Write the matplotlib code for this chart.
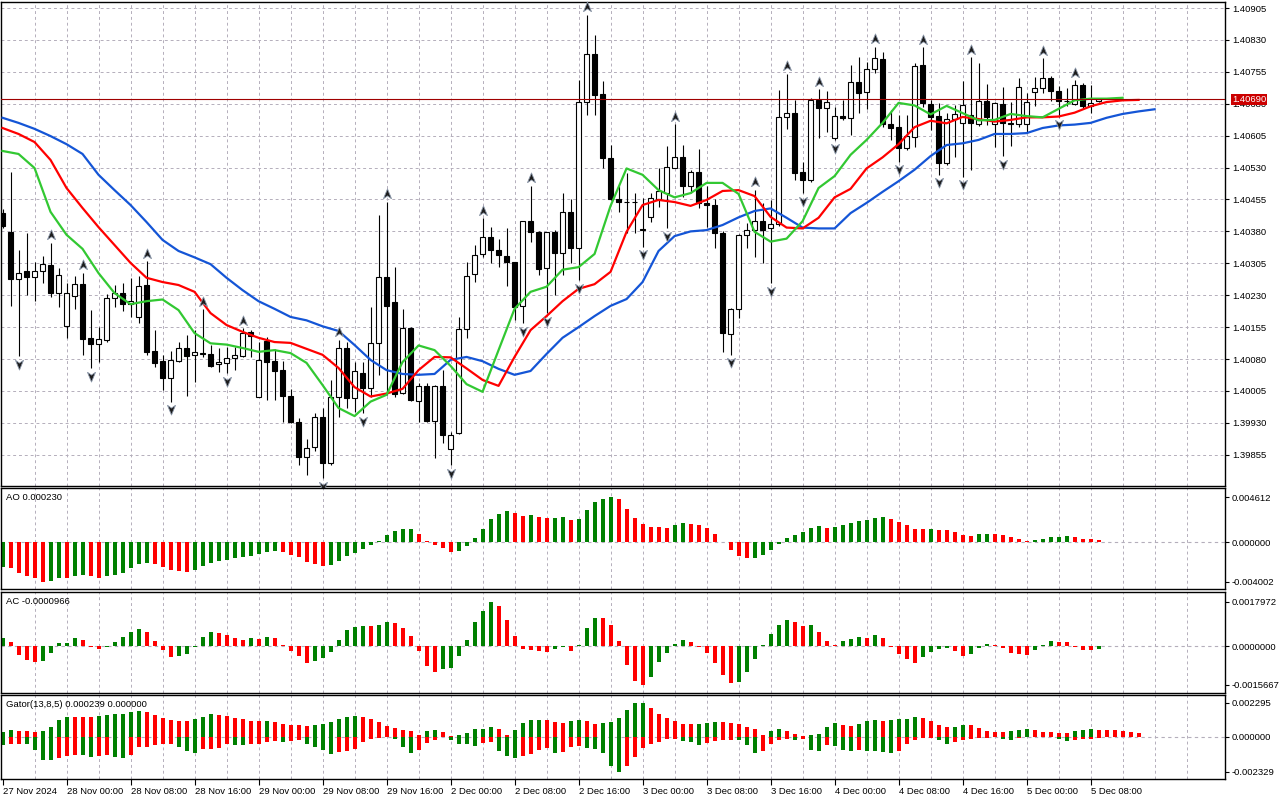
import numpy as np
import matplotlib
matplotlib.use("Agg")
import matplotlib.pyplot as plt
from matplotlib.path import Path
from matplotlib.transforms import offset_copy, blended_transform_factory

plt.rcParams['font.family'] = ['Liberation Sans', 'DejaVu Sans']

# ---- hourly candles, 27 Nov 16:00 .. 5 Dec 09:00 ----
opens = [1.40424, 1.40379, 1.40267, 1.40287, 1.40274, 1.40288, 1.40301, 1.40235, 1.40158, 1.40229,
         1.40256, 1.40130, 1.40116, 1.40125, 1.40224, 1.40235, 1.40210, 1.40180, 1.40254, 1.40099,
         1.40076, 1.40036, 1.40076, 1.40105, 1.40090, 1.40094, 1.40093, 1.40068, 1.40071, 1.40082,
         1.40088, 1.40143, 1.39992, 1.40123, 1.40076, 1.40054, 1.39994, 1.39932, 1.39851, 1.39874,
         1.39945, 1.39835, 1.39992, 1.40105, 1.39988, 1.40048, 1.40011, 1.40117, 1.40272, 1.40213,
         1.40001, 1.40154, 1.39981, 1.40017, 1.39935, 1.40017, 1.39869, 1.39906, 1.40151, 1.40279,
         1.40326, 1.40368, 1.40336, 1.40323, 1.40307, 1.40205, 1.40404, 1.40378, 1.40293, 1.40378,
         1.40329, 1.40425, 1.40340, 1.40685, 1.40796, 1.40702, 1.40552, 1.40456, 1.40450, 1.40449,
         1.40386, 1.40415, 1.40456, 1.40471, 1.40530, 1.40556, 1.40487, 1.40519, 1.40446, 1.40442,
         1.40376, 1.40138, 1.40197, 1.40372, 1.40383, 1.40405, 1.40387, 1.40397, 1.40648, 1.40658,
         1.40519, 1.40500, 1.40689, 1.40669, 1.40599, 1.40651, 1.40646, 1.40730, 1.40708, 1.40761,
         1.40784, 1.40632, 1.40625, 1.40575, 1.40603, 1.40770, 1.40679, 1.40651, 1.40541, 1.40644,
         1.40635, 1.40654, 1.40632, 1.40686, 1.40632, 1.40679, 1.40634, 1.40632, 1.40632, 1.40707,
         1.40716, 1.40740, 1.40710, 1.40687, 1.40679, 1.40724, 1.40675, 1.40687]
highs = [1.40433, 1.40520, 1.40336, 1.40377, 1.40309, 1.40322, 1.40353, 1.40294, 1.40258, 1.40275,
         1.40282, 1.40195, 1.40156, 1.40233, 1.40254, 1.40258, 1.40270, 1.40275, 1.40310, 1.40148,
         1.40090, 1.40099, 1.40119, 1.40137, 1.40148, 1.40197, 1.40113, 1.40105, 1.40109, 1.40109,
         1.40152, 1.40148, 1.40121, 1.40133, 1.40103, 1.40076, 1.40009, 1.39941, 1.39891, 1.39954,
         1.39964, 1.40031, 1.40125, 1.40121, 1.40074, 1.40072, 1.40203, 1.40419, 1.40450, 1.40297,
         1.40197, 1.40156, 1.40023, 1.40023, 1.40019, 1.40054, 1.39909, 1.40180, 1.40309, 1.40348,
         1.40411, 1.40391, 1.40361, 1.40389, 1.40309, 1.40405, 1.40487, 1.40382, 1.40379, 1.40383,
         1.40471, 1.40455, 1.40736, 1.40889, 1.40842, 1.40733, 1.40583, 1.40489, 1.40517, 1.40471,
         1.40458, 1.40470, 1.40528, 1.40581, 1.40632, 1.40583, 1.40524, 1.40574, 1.40487, 1.40456,
         1.40380, 1.40199, 1.40375, 1.40399, 1.40477, 1.40446, 1.40454, 1.40712, 1.40750, 1.40689,
         1.40542, 1.40694, 1.40714, 1.40710, 1.40672, 1.40689, 1.40771, 1.40791, 1.40777, 1.40814,
         1.40801, 1.40665, 1.40654, 1.40654, 1.40775, 1.40813, 1.40689, 1.40681, 1.40658, 1.40677,
         1.40733, 1.40789, 1.40775, 1.40726, 1.40685, 1.40719, 1.40685, 1.40740, 1.40706, 1.40742,
         1.40787, 1.40745, 1.40722, 1.40718, 1.40735, 1.40728, 1.40725, 1.40694]
lows = [1.40388, 1.40205, 1.40087, 1.40231, 1.40217, 1.40259, 1.40227, 1.40203, 1.40129, 1.40198,
        1.40090, 1.40058, 1.40074, 1.40121, 1.40203, 1.40194, 1.40180, 1.40164, 1.40090, 1.40062,
        1.40007, 1.39980, 1.40074, 1.39994, 1.40027, 1.40086, 1.40062, 1.40050, 1.40047, 1.40054,
        1.40086, 1.40086, 1.39990, 1.39984, 1.39984, 1.39931, 1.39929, 1.39831, 1.39808, 1.39865,
        1.39800, 1.39831, 1.39945, 1.39964, 1.39956, 1.39953, 1.39992, 1.40043, 1.39996, 1.39992,
        1.39997, 1.39982, 1.39933, 1.39933, 1.39847, 1.39882, 1.39831, 1.39904, 1.40129, 1.40262,
        1.40321, 1.40305, 1.40297, 1.40252, 1.40172, 1.40164, 1.40356, 1.40278, 1.40188, 1.40231,
        1.40278, 1.40305, 1.40266, 1.40654, 1.40654, 1.40528, 1.40454, 1.40426, 1.40376, 1.40377,
        1.40344, 1.40403, 1.40438, 1.40387, 1.40528, 1.40462, 1.40470, 1.40434, 1.40391, 1.40340,
        1.40097, 1.40090, 1.40176, 1.40340, 1.40321, 1.40305, 1.40258, 1.40393, 1.40620, 1.40501,
        1.40470, 1.40497, 1.40599, 1.40614, 1.40595, 1.40642, 1.40607, 1.40658, 1.40668, 1.40752,
        1.40626, 1.40595, 1.40544, 1.40571, 1.40579, 1.40673, 1.40618, 1.40513, 1.40535, 1.40555,
        1.40509, 1.40524, 1.40628, 1.40630, 1.40579, 1.40557, 1.40581, 1.40625, 1.40611, 1.40675,
        1.40705, 1.40686, 1.40650, 1.40675, 1.40677, 1.40668, 1.40658, 1.40685]
closes = [1.40393, 1.40267, 1.40283, 1.40274, 1.40287, 1.40303, 1.40235, 1.40277, 1.40235, 1.40256,
          1.40127, 1.40116, 1.40127, 1.40224, 1.40235, 1.40210, 1.40216, 1.40252, 1.40097, 1.40070,
          1.40036, 1.40077, 1.40105, 1.40088, 1.40096, 1.40093, 1.40064, 1.40073, 1.40082, 1.40090,
          1.40141, 1.40135, 1.40078, 1.40074, 1.40053, 1.39994, 1.39931, 1.39851, 1.39872, 1.39944,
          1.39835, 1.39990, 1.40105, 1.39988, 1.40052, 1.40011, 1.40117, 1.40272, 1.40205, 1.39999,
          1.40154, 1.39984, 1.40017, 1.39934, 1.40017, 1.39902, 1.39902, 1.40151, 1.40275, 1.40325,
          1.40368, 1.40336, 1.40325, 1.40307, 1.40202, 1.40404, 1.40378, 1.40292, 1.40378, 1.40329,
          1.40425, 1.40340, 1.40683, 1.40796, 1.40701, 1.40552, 1.40456, 1.40450, 1.40449, 1.40448,
          1.40383, 1.40458, 1.40475, 1.40531, 1.40556, 1.40487, 1.40519, 1.40446, 1.40442, 1.40376,
          1.40141, 1.40197, 1.40372, 1.40383, 1.40405, 1.40383, 1.40397, 1.40650, 1.40658, 1.40517,
          1.40500, 1.40689, 1.40669, 1.40683, 1.40651, 1.40646, 1.40730, 1.40706, 1.40761, 1.40787,
          1.40632, 1.40624, 1.40575, 1.40604, 1.40769, 1.40681, 1.40650, 1.40541, 1.40643, 1.40655,
          1.40676, 1.40634, 1.40686, 1.40650, 1.40681, 1.40634, 1.40633, 1.40719, 1.40683, 1.40716,
          1.40740, 1.40710, 1.40687, 1.40686, 1.40724, 1.40675, 1.40682, 1.40690]

# Alligator lines, read every 2nd bar (jaw/teeth/lips extend past the last candle)
jaw = [1.40647, 1.40635, 1.40621, 1.40604, 1.40585, 1.40562, 1.40513, 1.40477, 1.40442, 1.40402,
       1.40360, 1.40334, 1.40319, 1.40303, 1.40271, 1.40242, 1.40216, 1.40198, 1.40179, 1.40171,
       1.40157, 1.40146, 1.40113, 1.40078, 1.40054, 1.40045, 1.40043, 1.40045, 1.40078, 1.40085,
       1.40075, 1.40057, 1.40043, 1.40052, 1.40092, 1.40130, 1.40155, 1.40181, 1.40205, 1.40221,
       1.40261, 1.40334, 1.40369, 1.40380, 1.40383, 1.40395, 1.40413, 1.40428, 1.40434, 1.40412,
       1.40389, 1.40387, 1.40387, 1.40423, 1.40447, 1.40473, 1.40498, 1.40525, 1.40557, 1.40583,
       1.40587, 1.40595, 1.40609, 1.40609, 1.40611, 1.40623, 1.40629, 1.40631, 1.40635, 1.40647,
       1.40656, 1.40662, 1.40667]
teeth = [1.40623, 1.40609, 1.40590, 1.40548, 1.40482, 1.40435, 1.40390, 1.40348, 1.40306, 1.40271,
         1.40261, 1.40254, 1.40238, 1.40188, 1.40160, 1.40144, 1.40130, 1.40120, 1.40118, 1.40104,
         1.40090, 1.40059, 1.40014, 1.39992, 1.39999, 1.40010, 1.40054, 1.40085, 1.40084, 1.40058,
         1.40031, 1.40017, 1.40085, 1.40148, 1.40181, 1.40216, 1.40245, 1.40256, 1.40285, 1.40379,
         1.40442, 1.40454, 1.40449, 1.40440, 1.40454, 1.40475, 1.40477, 1.40463, 1.40414, 1.40389,
         1.40387, 1.40412, 1.40460, 1.40480, 1.40528, 1.40554, 1.40585, 1.40625, 1.40640, 1.40634,
         1.40649, 1.40644, 1.40638, 1.40642, 1.40648, 1.40648, 1.40650, 1.40659, 1.40674, 1.40684,
         1.40688, 1.40689]
lips = [1.40569, 1.40562, 1.40529, 1.40426, 1.40372, 1.40339, 1.40282, 1.40235, 1.40209, 1.40216,
        1.40220, 1.40195, 1.40141, 1.40117, 1.40114, 1.40106, 1.40097, 1.40101, 1.40094, 1.40071,
        1.40019, 1.39965, 1.39946, 1.39980, 1.39996, 1.40073, 1.40112, 1.40101, 1.40064, 1.40021,
        1.40003, 1.40101, 1.40198, 1.40238, 1.40250, 1.40290, 1.40296, 1.40327, 1.40440, 1.40528,
        1.40513, 1.40477, 1.40460, 1.40470, 1.40494, 1.40494, 1.40468, 1.40379, 1.40356, 1.40363,
        1.40404, 1.40482, 1.40510, 1.40560, 1.40595, 1.40635, 1.40682, 1.40676, 1.40655, 1.40675,
        1.40658, 1.40641, 1.40642, 1.40656, 1.40651, 1.40648, 1.40668, 1.40688, 1.40692, 1.40692,
        1.40694]

fractal_up = [6, 10, 18, 25, 30, 42, 48, 60, 66, 73, 84, 94, 98, 102, 109, 115, 121, 130, 134]
fractal_down = [2, 11, 21, 28, 40, 45, 56, 65, 68, 72, 80, 83, 91, 96, 100, 104, 112, 117, 120, 125, 132]

ao = [-0.002519, -0.002657, -0.003174, -0.003450, -0.003657, -0.004002, -0.003985, -0.003657, -0.003692, -0.003450,
      -0.003381, -0.003450, -0.003657, -0.003450, -0.003312, -0.003105, -0.002622, -0.002243, -0.002139, -0.002243,
      -0.002519, -0.002829, -0.002933, -0.003036, -0.002829, -0.002415, -0.002105, -0.001898, -0.001760, -0.001587,
      -0.001484, -0.001380, -0.001208, -0.000966, -0.000897, -0.000966, -0.001311, -0.001484, -0.002001, -0.002243,
      -0.002415, -0.002346, -0.001898, -0.001415, -0.001104, -0.000690, -0.000276, 0.000133, 0.000730, 0.001129,
      0.001328, 0.001361, 0.000797, 0.000133, -0.000276, -0.000552, -0.001001, -0.000897, -0.000345, 0.000465,
      0.001361, 0.002390, 0.002922, 0.003154, 0.002955, 0.002722, 0.002756, 0.002623, 0.002490, 0.002523,
      0.002556, 0.002258, 0.002424, 0.003320, 0.004117, 0.004382, 0.004612, 0.004416, 0.003386, 0.002523,
      0.001826, 0.001560, 0.001527, 0.001494, 0.001760, 0.001926, 0.001826, 0.001726, 0.001461, 0.000830,
      0.000033, -0.000794, -0.001415, -0.001587, -0.001553, -0.001311, -0.000794, -0.000173, 0.000465, 0.000730,
      0.001062, 0.001494, 0.001627, 0.001461, 0.001560, 0.001726, 0.001926, 0.002158, 0.002258, 0.002523,
      0.002623, 0.002424, 0.002025, 0.001726, 0.001361, 0.001328, 0.001361, 0.001262, 0.001228, 0.001029,
      0.000730, 0.000631, 0.000830, 0.000896, 0.000797, 0.000730, 0.000498, 0.000332, 0.000133, 0.000232,
      0.000332, 0.000531, 0.000564, 0.000631, 0.000531, 0.000365, 0.000332, 0.000230]

ac = [0.000317, 0.000172, -0.000360, -0.000568, -0.000651, -0.000610, -0.000277, 0.000119, 0.000145, 0.000330,
      0.000251, -0.000014, -0.000111, -0.000014, 0.000172, 0.000370, 0.000568, 0.000686, 0.000581, 0.000211,
      -0.000152, -0.000416, -0.000388, -0.000319, -0.000014, 0.000370, 0.000568, 0.000528, 0.000449, 0.000330,
      0.000251, 0.000330, 0.000290, 0.000370, 0.000330, 0.000053, -0.000194, -0.000402, -0.000693, -0.000610,
      -0.000485, -0.000236, 0.000251, 0.000647, 0.000766, 0.000818, 0.000805, 0.000845, 0.001003, 0.000924,
      0.000726, 0.000409, -0.000194, -0.000818, -0.001026, -0.000901, -0.000859, -0.000402, 0.000251, 0.000964,
      0.001439, 0.0017972, 0.001637, 0.001082, 0.000409, -0.000111, -0.000152, -0.000194, -0.000236, -0.000111,
      -0.000014, -0.000194, 0.000053, 0.000726, 0.001162, 0.001148, 0.000845, 0.000211, -0.000776, -0.001400,
      -0.0015667, -0.001234, -0.000651, -0.000277, 0.000092, 0.000251, 0.000172, -0.000014, -0.000277, -0.000693,
      -0.001150, -0.001483, -0.001441, -0.001026, -0.000527, 0.000053, 0.000488, 0.000845, 0.001082, 0.000964,
      0.000805, 0.000845, 0.000568, 0.000211, 0.000053, 0.000211, 0.000290, 0.000370, 0.000330, 0.000449,
      0.000330, -0.000014, -0.000319, -0.000527, -0.000693, -0.000444, -0.000236, -0.000111, -0.000069, -0.000194,
      -0.000402, -0.000319, -0.000069, 0.000092, 0.000053, -0.000069, -0.000277, -0.000319, -0.000333, -0.000152,
      0.000040, 0.000211, 0.000185, 0.000172, -0.000028, -0.000139, -0.000152, -0.0000966]

gator_up = [0.000333, 0.000466, 0.000400, 0.000389, 0.000333, 0.000400, 0.000666, 0.001132, 0.001332, 0.001321,
            0.001310, 0.001299, 0.001399, 0.001465, 0.001532, 0.001543, 0.001665, 0.001732, 0.001665, 0.001465,
            0.001265, 0.001132, 0.001066, 0.001055, 0.001199, 0.001332, 0.001532, 0.001465, 0.001399, 0.001265,
            0.001199, 0.001066, 0.001055, 0.001077, 0.000999, 0.000866, 0.000799, 0.000788, 0.000733, 0.000799,
            0.000866, 0.000999, 0.001199, 0.001332, 0.001399, 0.001332, 0.001199, 0.000999, 0.000733, 0.000599,
            0.000466, 0.000400, 0.000133, 0.000400, 0.000466, 0.000333, 0.000067, 0.000133, 0.000266, 0.000533,
            0.000544, 0.000666, 0.000533, 0.000133, 0.000466, 0.000932, 0.001132, 0.001143, 0.001132, 0.000999,
            0.000932, 0.001066, 0.001132, 0.001066, 0.000866, 0.000932, 0.000999, 0.001265, 0.001798, 0.002264,
            0.002295, 0.001954, 0.001554, 0.001288, 0.001066, 0.000844, 0.000833, 0.000844, 0.000910, 0.001021,
            0.000999, 0.000910, 0.000844, 0.000688, 0.000511, 0.000111, 0.000422, 0.000555, 0.000422, 0.000178,
            0.000089, 0.000100, 0.000222, 0.000688, 0.000955, 0.000821, 0.000755, 0.000888, 0.001088, 0.001099,
            0.001088, 0.001099, 0.001221, 0.001232, 0.001354, 0.001288, 0.001088, 0.000821, 0.000688, 0.000699,
            0.000821, 0.000810, 0.000622, 0.000422, 0.000355, 0.000344, 0.000422, 0.000488, 0.000555, 0.000488,
            0.000355, 0.000311, 0.000266, 0.000255, 0.000422, 0.000488, 0.000555, 0.000488, 0.000444, 0.000433,
            0.000422, 0.000355, 0.000239]
gator_down = [0.000555, 0.000466, 0.000444, 0.000466, 0.000844, 0.001510, 0.001532, 0.001376, 0.001243, 0.001177,
              0.001199, 0.001310, 0.001243, 0.001177, 0.001310, 0.001376, 0.001177, 0.000644, 0.000633, 0.000511,
              0.000444, 0.000433, 0.000644, 0.000910, 0.001043, 0.000777, 0.000766, 0.000710, 0.000444, 0.000511,
              0.000522, 0.000444, 0.000433, 0.000311, 0.000289, 0.000311, 0.000244, 0.000178, 0.000444, 0.000644,
              0.000844, 0.001110, 0.000977, 0.000910, 0.000777, 0.000311, 0.000111, 0.000044, 0.000022, 0.000133,
              0.000644, 0.001043, 0.000844, 0.000377, 0.000178, 0.000022, 0.000200, 0.000444, 0.000455, 0.000577,
              0.000377, 0.000311, 0.000910, 0.001243, 0.001376, 0.001243, 0.001110, 0.000844, 0.000710, 0.001043,
              0.001032, 0.000644, 0.000577, 0.000710, 0.000777, 0.001043, 0.001909, 0.002329, 0.001909, 0.001310,
              0.000755, 0.000444, 0.000311, 0.000111, 0.000100, 0.000244, 0.000311, 0.000511, 0.000377, 0.000289,
              0.000222, 0.000178, 0.000200, 0.000533, 0.001088, 0.000955, 0.000488, 0.000222, 0.000155, 0.000222,
              0.000155, 0.000888, 0.000955, 0.000555, 0.000577, 0.000888, 0.000955, 0.000888, 0.000910, 0.000955,
              0.000977, 0.001043, 0.000955, 0.000488, 0.000222, 0.000089, 0.000044, 0.000222, 0.000488, 0.000355,
              0.000222, 0.000111, 0.000067, 0.000044, 0.000022, 0.000155, 0.000222, 0.000067, 0.000022, 0.000033,
              0.000022, 0.000011, 0.000155, 0.000289, 0.000222, 0.000155, 0.000133, 0.000067, 0.0, 0.0,
              0.0, 0.0, 0.0]

price_ticks = [1.40905, 1.40830, 1.40755, 1.40680, 1.40605, 1.40530, 1.40455, 1.40380,
               1.40305, 1.40230, 1.40155, 1.40080, 1.40005, 1.39930, 1.39855]
ao_ticks = [0.004612, 0.0, -0.004002]
ac_ticks = [0.0017972, 0.0, -0.0015667]
gator_ticks = [0.002295, 0.0, -0.002329]
date_labels = ["27 Nov 2024", "28 Nov 00:00", "28 Nov 08:00", "28 Nov 16:00", "29 Nov 00:00",
               "29 Nov 08:00", "29 Nov 16:00", "2 Dec 00:00", "2 Dec 08:00", "2 Dec 16:00",
               "3 Dec 00:00", "3 Dec 08:00", "3 Dec 16:00", "4 Dec 00:00", "4 Dec 08:00",
               "4 Dec 16:00", "5 Dec 00:00", "5 Dec 08:00"]

GREEN = '#008000'
RED = '#ff0000'
GRID = '#b4aebb'
FS = 6.8


def trend_colors(vals):
    cols = [GREEN]
    for i in range(1, len(vals)):
        cols.append(GREEN if vals[i] > vals[i - 1] else RED)
    return cols


opens, highs, lows, closes = map(np.array, (opens, highs, lows, closes))
ao, ac = np.array(ao), np.array(ac)
gator_up, gator_down = np.array(gator_up), np.array(gator_down)
x = np.arange(len(closes))

fig = plt.figure(figsize=(12.8, 8), dpi=100)
W, H = 1280, 800


def panel(top, bottom):
    return fig.add_axes([1 / W, 1 - bottom / H, 1224 / W, (bottom - top) / H])


ax = panel(2, 486)
ax_ao = panel(488, 589)
ax_ac = panel(592, 693)
ax_gt = panel(695, 779)
axes = [ax, ax_ao, ax_ac, ax_gt]

for a in axes:
    a.set_xlim(-0.19, 152.8)
    for s in a.spines.values():
        s.set_color('black')
        s.set_linewidth(1)
    for b in range(4, 152, 4):
        a.axvline(b, color=GRID, lw=0.7, ls=(0, (3, 3)), zorder=0)
    a.yaxis.tick_right()
    a.tick_params(axis='y', direction='out', length=3, width=0.8, pad=2,
                  labelsize=FS, colors='black')
    a.set_facecolor('white')

# ---- main price panel ----
ax.set_ylim(1.397817, 1.409191)
for p in price_ticks:
    ax.axhline(p, color=GRID, lw=0.7, ls=(0, (3, 3)), zorder=0)
ax.set_yticks(price_ticks)
ax.set_yticklabels([f'{p:.5f}' for p in price_ticks])

ax.vlines(x, lows, highs, color='black', lw=0.8, zorder=2)
bull = closes >= opens
ax.bar(x, np.abs(closes - opens), bottom=np.minimum(opens, closes), width=0.6,
       color=np.where(bull, 'white', 'black'), edgecolor='black', lw=0.8, zorder=3)

ax.plot(np.arange(0, 2 * len(jaw), 2), jaw, color='#1455d6', lw=1.6, zorder=4)
ax.plot(np.arange(0, 2 * len(teeth), 2), teeth, color='#ff0000', lw=1.6, zorder=4)
ax.plot(np.arange(0, 2 * len(lips), 2), lips, color='#32c832', lw=1.6, zorder=4)

last = closes[-1]
ax.axhline(last, color='#a00000', lw=0.8, zorder=5)
tr = blended_transform_factory(ax.transAxes, ax.transData)
ax.text(1.0058, last, f'{last:.5f}', transform=tr, ha='left', va='center', fontsize=FS,
        color='white', zorder=10, clip_on=False,
        bbox=dict(boxstyle='square,pad=0.12', fc='#cc0000', ec='none'))

arrow_up = Path([(0, 1), (0.72, -0.75), (0, -0.25), (-0.72, -0.75), (0, 1)],
                [Path.MOVETO, Path.LINETO, Path.LINETO, Path.LINETO, Path.CLOSEPOLY])
arrow_dn = Path([(0, -1), (0.72, 0.75), (0, 0.25), (-0.72, 0.75), (0, -1)],
                [Path.MOVETO, Path.LINETO, Path.LINETO, Path.LINETO, Path.CLOSEPOLY])
t_up = offset_copy(ax.transData, fig=fig, x=0, y=5.5, units='points')
t_dn = offset_copy(ax.transData, fig=fig, x=0, y=-5.5, units='points')
ax.plot(fractal_up, highs[fractal_up], ls='none', marker=arrow_up, ms=8,
        mfc='#1c1c1c', mec='#8a96a8', mew=0.6, transform=t_up, zorder=6, clip_on=False)
ax.plot(fractal_down, lows[fractal_down], ls='none', marker=arrow_dn, ms=8,
        mfc='#1c1c1c', mec='#8a96a8', mew=0.6, transform=t_dn, zorder=6, clip_on=False)

# ---- AO ----
ax_ao.set_ylim(-0.0047634, 0.0055386)
ax_ao.axhline(0, color=GRID, lw=0.8, ls=(0, (3, 3)), zorder=0)
ax_ao.bar(x, ao, width=0.5, color=trend_colors(ao), lw=0, zorder=2)
ax_ao.set_yticks(ao_ticks)
ax_ao.set_yticklabels([f'{v:.6f}' for v in ao_ticks])
ax_ao.text(0.004, 0.955, f'AO {ao[-1]:.6f}', transform=ax_ao.transAxes,
           ha='left', va='top', fontsize=FS)

# ---- AC ----
ax_ac.set_ylim(-0.0018914, 0.0021992)
ax_ac.axhline(0, color=GRID, lw=0.8, ls=(0, (3, 3)), zorder=0)
ax_ac.bar(x, ac, width=0.5, color=trend_colors(ac), lw=0, zorder=2)
ax_ac.set_yticks(ac_ticks)
ax_ac.set_yticklabels([f'{v:.7f}' for v in ac_ticks])
ax_ac.text(0.004, 0.95, f'AC {ac[-1]:.7f}', transform=ax_ac.transAxes,
           ha='left', va='top', fontsize=FS)

# ---- Gator ----
xg = np.arange(len(gator_up))
ax_gt.set_ylim(-0.0027972, 0.0027972)
ax_gt.axhline(0, color=GRID, lw=0.8, ls=(0, (3, 3)), zorder=0)
ax_gt.bar(xg, gator_up, width=0.5, color=trend_colors(gator_up), lw=0, zorder=2)
ax_gt.bar(xg, -gator_down, width=0.5, color=trend_colors(gator_down), lw=0, zorder=2)
ax_gt.set_yticks(gator_ticks)
ax_gt.set_yticklabels([f'{v:.6f}' for v in gator_ticks])
ax_gt.text(0.004, 0.94, f'Gator(13,8,5) {gator_up[-1]:.6f} {gator_down[-1]:.6f}',
           transform=ax_gt.transAxes, ha='left', va='top', fontsize=FS)

for a in [ax, ax_ao, ax_ac]:
    a.tick_params(axis='x', bottom=False, labelbottom=False)
ax_gt.set_xticks(np.arange(0, 8 * len(date_labels), 8))
ax_gt.set_xticklabels(date_labels)
ax_gt.tick_params(axis='x', direction='out', length=4, width=0.8, pad=2, labelsize=FS)
for lbl in ax_gt.get_xticklabels():
    lbl.set_horizontalalignment('left')

fig.savefig('out.png', dpi=100, facecolor='white')
